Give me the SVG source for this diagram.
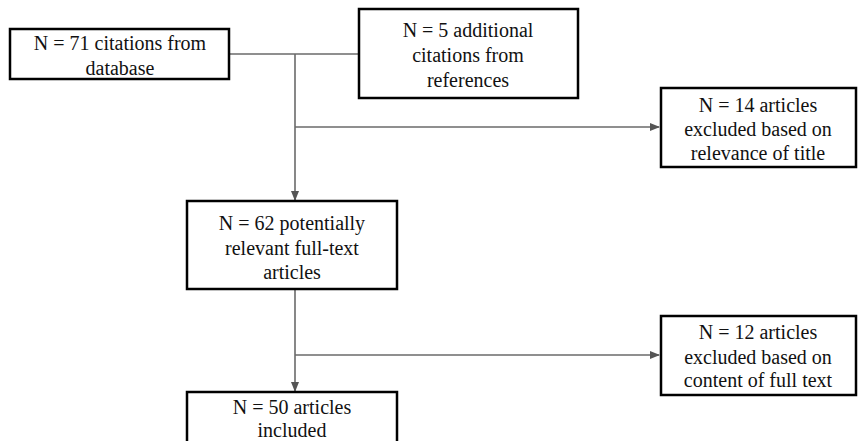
<svg xmlns="http://www.w3.org/2000/svg" width="858" height="441" viewBox="0 0 858 441">
<style>
.box{fill:#fff;stroke:#000;stroke-width:2.5}
.t{font-family:'Liberation Serif','Times New Roman','DejaVu Serif',serif;font-size:20px;fill:#111;text-anchor:middle}
.c{fill:none;stroke:#6a6a6a;stroke-width:1.6}
</style>
<defs>
<marker id="ah" markerWidth="10" markerHeight="8" refX="9" refY="4" orient="auto" markerUnits="userSpaceOnUse">
<path d="M0,0 L10,4 L0,8 Z" fill="#555"/>
</marker>
</defs>
<rect width="858" height="441" fill="#fff"/>
<g id="connectors">
<path class="c" d="M229,54 H359"/>
<path class="c" d="M295,54 V200" marker-end="url(#ah)"/>
<path class="c" d="M295,127 H659" marker-end="url(#ah)"/>
<path class="c" d="M295,289 V391" marker-end="url(#ah)"/>
<path class="c" d="M295,355 H659" marker-end="url(#ah)"/>
</g>
<g id="n1">
<rect class="box" x="10" y="29" width="219" height="50"/>
<text class="t" font-family="Liberation Serif, serif" x="120" y="50">N = 71 citations from</text>
<text class="t" font-family="Liberation Serif, serif" x="120" y="75">database</text>
</g>
<g id="n2">
<rect class="box" x="359" y="9" width="219" height="89"/>
<text class="t" x="468" y="37">N = 5 additional</text>
<text class="t" x="468" y="62">citations from</text>
<text class="t" x="468" y="87">references</text>
</g>
<g id="n3">
<rect class="box" x="661" y="88" width="195" height="79"/>
<text class="t" x="758" y="112">N = 14 articles</text>
<text class="t" x="758" y="136">excluded based on</text>
<text class="t" x="758" y="160">relevance of title</text>
</g>
<g id="n4">
<rect class="box" x="187" y="201" width="210" height="88"/>
<text class="t" x="292" y="230">N = 62 potentially</text>
<text class="t" x="292" y="255">relevant full-text</text>
<text class="t" x="292" y="279">articles</text>
</g>
<g id="n5">
<rect class="box" x="661" y="316" width="195" height="79"/>
<text class="t" x="758" y="339">N = 12 articles</text>
<text class="t" x="758" y="364">excluded based on</text>
<text class="t" x="758" y="387">content of full text</text>
</g>
<g id="n6">
<rect class="box" x="187" y="392" width="210" height="60"/>
<text class="t" x="292" y="414">N = 50 articles</text>
<text class="t" x="292" y="437">included</text>
</g>
</svg>
